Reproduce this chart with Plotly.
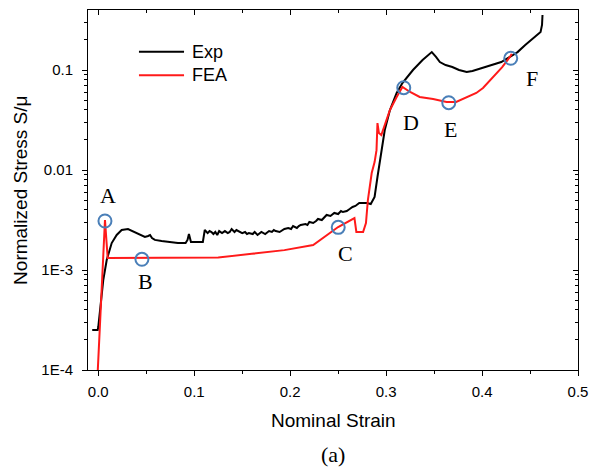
import math
import plotly.graph_objects as go

# ---------------- data ----------------
exp_strain = [-0.0063, -0.0006, 0.0, 0.0018, 0.0052, 0.0088, 0.014, 0.0192, 0.0244, 0.031,
              0.036, 0.042, 0.0486, 0.052, 0.054, 0.056, 0.059, 0.066, 0.075, 0.083,
              0.091, 0.093, 0.0945, 0.0966, 0.103, 0.109, 0.111, 0.114, 0.116, 0.118,
              0.120, 0.122, 0.124, 0.126, 0.129, 0.132, 0.135, 0.137, 0.139, 0.142,
              0.144, 0.146, 0.150, 0.153, 0.155, 0.157, 0.161, 0.163, 0.166, 0.170,
              0.172, 0.174, 0.178, 0.181, 0.183, 0.185, 0.189, 0.192, 0.194, 0.198,
              0.201, 0.203, 0.207, 0.209, 0.211, 0.216, 0.218, 0.220, 0.224, 0.227,
              0.229, 0.233, 0.236, 0.238, 0.242, 0.244, 0.246, 0.250, 0.253, 0.255,
              0.259, 0.262, 0.265, 0.268, 0.272, 0.276, 0.280,
              0.284, 0.288, 0.291, 0.2955, 0.2986, 0.304, 0.311, 0.317, 0.328, 0.338,
              0.3476, 0.352, 0.356, 0.362, 0.369, 0.376, 0.384, 0.390, 0.400, 0.411,
              0.420, 0.429, 0.437, 0.445, 0.452, 0.458, 0.461, 0.4625, 0.463]
exp_stress = [2.51e-4, 2.51e-4, 2.69e-4, 3.98e-4, 7.94e-4, 1.26e-3, 1.86e-3, 2.24e-3, 2.51e-3, 2.57e-3,
              2.45e-3, 2.29e-3, 2.14e-3, 2.19e-3, 2.24e-3, 2.09e-3, 2.00e-3, 1.95e-3, 1.91e-3, 1.86e-3,
              1.86e-3, 2.00e-3, 2.29e-3, 1.91e-3, 1.91e-3, 1.91e-3, 2.51e-3, 2.34e-3, 2.45e-3, 2.40e-3,
              2.29e-3, 2.40e-3, 2.24e-3, 2.45e-3, 2.34e-3, 2.45e-3, 2.34e-3, 2.40e-3, 2.57e-3, 2.40e-3,
              2.51e-3, 2.45e-3, 2.34e-3, 2.40e-3, 2.29e-3, 2.34e-3, 2.29e-3, 2.40e-3, 2.24e-3, 2.40e-3,
              2.34e-3, 2.29e-3, 2.45e-3, 2.40e-3, 2.51e-3, 2.45e-3, 2.40e-3, 2.51e-3, 2.57e-3, 2.63e-3,
              2.57e-3, 2.75e-3, 2.63e-3, 2.75e-3, 2.82e-3, 2.88e-3, 2.82e-3, 3.02e-3, 2.95e-3, 3.09e-3,
              3.24e-3, 3.16e-3, 3.39e-3, 3.55e-3, 3.47e-3, 3.63e-3, 3.72e-3, 3.63e-3, 3.89e-3, 3.80e-3,
              3.89e-3, 4.07e-3, 4.27e-3, 4.37e-3, 4.68e-3, 4.68e-3, 4.68e-3,
              4.57e-3, 5.37e-3, 8.51e-3, 0.0158, 0.0251, 0.0398, 0.0589, 0.0741, 0.100, 0.126,
              0.151, 0.135, 0.120, 0.112, 0.107, 0.100, 0.0955, 0.0977, 0.105, 0.112,
              0.120, 0.135, 0.151, 0.178, 0.204, 0.229, 0.240, 0.282, 0.355]

fea_strain = [-0.002, 0.007, 0.0098, 0.073, 0.125, 0.160, 0.194, 0.224, 0.238, 0.250,
              0.267, 0.269, 0.276, 0.279, 0.281, 0.285, 0.288, 0.290, 0.291, 0.2925,
              0.295, 0.298, 0.304, 0.311, 0.317, 0.325, 0.335, 0.349, 0.363, 0.373,
              0.384, 0.394, 0.401, 0.411, 0.421, 0.429, 0.431]
fea_stress = [5.0e-5, 3.16e-3, 1.32e-3, 1.32e-3, 1.33e-3, 1.45e-3, 1.58e-3, 1.78e-3, 2.24e-3, 2.69e-3,
              3.31e-3, 2.40e-3, 2.40e-3, 2.95e-3, 5.01e-3, 9.33e-3, 0.0120, 0.0158, 0.0295, 0.0234,
              0.0224, 0.0269, 0.0398, 0.0537, 0.0676, 0.0603, 0.0537, 0.0513, 0.0479, 0.0479,
              0.0537, 0.0589, 0.0661, 0.0832, 0.107, 0.135, 0.145]

point_labels = ["A", "B", "C", "D", "E", "F"]
point_strain = [0.00698, 0.0455, 0.2501, 0.3184, 0.3653, 0.4299]
point_stress = [3.09e-3, 1.28e-3, 2.67e-3, 0.0665, 0.0471, 0.131]

x_tick_vals = [0.0, 0.1, 0.2, 0.3, 0.4, 0.5]
x_tick_text = ["0.0", "0.1", "0.2", "0.3", "0.4", "0.5"]
y_tick_vals = [1e-4, 1e-3, 1e-2, 1e-1]
y_tick_text = ["1E-4", "1E-3", "0.01", "0.1"]

series_names = ["Exp", "FEA"]

# ---------------- styling / positions ----------------
label_shifts = [(3, 26), (4, -22), (7, -26), (7, -35), (2, -27), (21, -20)]
x_minor = [0.05 * i for i in range(0, 11)]
y_minor = [k * 10 ** e for e in range(-4, 0) for k in range(2, 10)]
XR = [-0.0107, 0.5]
YR = [-4, -0.4]
SANS = "Liberation Sans, Arial, sans-serif"
SERIF = "Liberation Serif, Times New Roman, serif"

fig = go.Figure()
fig.add_trace(go.Scatter(x=exp_strain, y=exp_stress, mode="lines", name=series_names[0],
                         line=dict(color="black", width=2), showlegend=False))
fig.add_trace(go.Scatter(x=fea_strain, y=fea_stress, mode="lines", name=series_names[1],
                         line=dict(color="#ff1a1a", width=2), showlegend=False))
fig.add_trace(go.Scatter(x=point_strain, y=point_stress, mode="markers", showlegend=False,
                         marker=dict(symbol="circle-open", size=13, color="#4a7fb8",
                                     line=dict(width=2, color="#4a7fb8"))))
# dummy trace for mirrored axes
fig.add_trace(go.Scatter(x=[None], y=[None], xaxis="x2", yaxis="y2", showlegend=False,
                         hoverinfo="skip"))

common_x = dict(range=XR, tickmode="array", tickvals=x_tick_vals, ticktext=x_tick_text,
                showgrid=False, zeroline=False, showline=True, linecolor="black", linewidth=1,
                tickcolor="black", ticklen=5, tickwidth=1, automargin=False)
common_y = dict(type="log", range=YR, tickmode="array", tickvals=y_tick_vals,
                ticktext=y_tick_text, showgrid=False, zeroline=False, showline=True,
                linecolor="black", linewidth=1, tickcolor="black", ticklen=5, tickwidth=1,
                automargin=False)

fig.update_layout(
    template="none",
    width=589, height=468,
    margin=dict(l=88, r=11, t=10, b=98, pad=0),
    paper_bgcolor="white", plot_bgcolor="white",
    showlegend=False,
    font=dict(family=SANS, size=15, color="black"),
    xaxis=dict(**common_x, ticks="outside", ticklabelstandoff=3,
               tickfont=dict(family=SANS, size=15),
               minor=dict(tickmode="array", tickvals=x_minor, ticks="outside", ticklen=3,
                          tickcolor="black", tickwidth=1, showgrid=False)),
    xaxis2=dict(**common_x, overlaying="x", side="top", ticks="inside", showticklabels=False,
                minor=dict(tickmode="array", tickvals=x_minor, ticks="inside", ticklen=3,
                           tickcolor="black", tickwidth=1, showgrid=False)),
    yaxis=dict(**common_y, ticks="outside", ticklabelstandoff=6,
               tickfont=dict(family=SANS, size=15),
               minor=dict(tickmode="array", tickvals=y_minor, ticks="outside", ticklen=3,
                          tickcolor="black", tickwidth=1, showgrid=False)),
    yaxis2=dict(**common_y, overlaying="y", side="right", ticks="inside", showticklabels=False,
                minor=dict(tickmode="array", tickvals=y_minor, ticks="inside", ticklen=3,
                           tickcolor="black", tickwidth=1, showgrid=False)),
)

ann = []
for lab, xs, ys, (dx, dy) in zip(point_labels, point_strain, point_stress, label_shifts):
    ann.append(dict(x=xs, y=math.log10(ys), xref="x", yref="y", text=lab, showarrow=False,
                    xanchor="center", yanchor="middle",
                    xshift=dx, yshift=dy, font=dict(family=SERIF, size=22, color="black")))

ann.append(dict(x=-0.139, y=0.5, xref="paper", yref="paper", text="Normalized Stress S/μ",
                textangle=-90, showarrow=False, xanchor="center", yanchor="middle",
                font=dict(family=SANS, size=19)))
ann.append(dict(x=0.5, y=-0.139, xref="paper", yref="paper", text="Nominal Strain",
                showarrow=False, xanchor="center", yanchor="middle",
                font=dict(family=SANS, size=19)))
ann.append(dict(x=0.5, y=-0.236, xref="paper", yref="paper", text="(a)",
                showarrow=False, xanchor="center", yanchor="middle",
                font=dict(family=SERIF, size=22)))

# manual legend
legend_colors = ["black", "#ff1a1a"]
legend_y = [0.884, 0.819]
shapes = []
for nm, col, ly in zip(series_names, legend_colors, legend_y):
    shapes.append(dict(type="line", xref="paper", yref="paper", x0=0.104, x1=0.196,
                       y0=ly, y1=ly, line=dict(color=col, width=2)))
    ann.append(dict(x=0.208, y=ly, xref="paper", yref="paper", text=nm, showarrow=False,
                    xanchor="left", yanchor="middle", font=dict(family=SANS, size=18)))

fig.update_layout(annotations=ann, shapes=shapes)
fig.write_html("out.html", config={"displayModeBar": False},
               post_script="document.body.style.margin='0';document.body.style.padding='0';")
